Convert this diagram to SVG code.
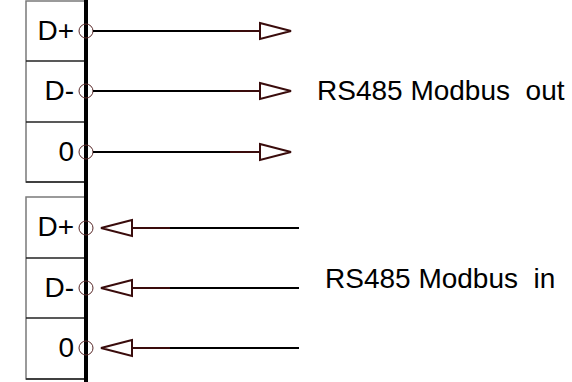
<svg xmlns="http://www.w3.org/2000/svg" width="572" height="382" viewBox="0 0 572 382">
<style>
.box{fill:#fff;stroke:#7a7a7a;stroke-width:1.5}
.div{stroke:#222;stroke-width:1.5}
.pin{fill:none;stroke:#5a2a2a;stroke-width:1}
.lbl{font-family:"Liberation Sans",Arial,sans-serif;font-size:28px;fill:#000}
.wire{stroke:#000;stroke-width:2;fill:none}
.bw{stroke:#3a0c0c;stroke-width:2;fill:none}
.arr{fill:#fff;stroke:#3a0c0c;stroke-width:2;stroke-linejoin:miter}
</style>
<rect width="572" height="382" fill="#fff"/>
<g id="out-terminal">
<rect class="box" x="26" y="1" width="60" height="181"/>
<line class="div" x1="26" y1="61" x2="86" y2="61"/>
<line class="div" x1="26" y1="122" x2="86" y2="122"/>
<line class="div" x1="26" y1="182" x2="86" y2="182"/>
<text class="lbl" x="74" y="40" text-anchor="end">D+</text>
<text class="lbl" x="74" y="100" text-anchor="end">D-</text>
<text class="lbl" x="74" y="161" text-anchor="end">0</text>
</g>
<g id="in-terminal">
<rect class="box" x="26" y="197" width="60" height="182"/>
<line class="div" x1="26" y1="258" x2="86" y2="258"/>
<line class="div" x1="26" y1="318" x2="86" y2="318"/>
<line class="div" x1="26" y1="379" x2="86" y2="379"/>
<text class="lbl" x="74" y="236" text-anchor="end">D+</text>
<text class="lbl" x="74" y="297" text-anchor="end">D-</text>
<text class="lbl" x="74" y="357" text-anchor="end">0</text>
</g>
<g id="bus">
<line x1="86" y1="0" x2="86" y2="382" stroke="#000" stroke-width="4"/>
</g>
<g id="pins">
<circle class="pin" cx="86" cy="31" r="7"/>
<circle class="pin" cx="86" cy="91" r="7"/>
<circle class="pin" cx="86" cy="152" r="7"/>
<circle class="pin" cx="86" cy="228" r="7"/>
<circle class="pin" cx="86" cy="288" r="7"/>
<circle class="pin" cx="86" cy="348" r="7"/>
</g>
<g id="connectors">
<line class="wire" x1="93" y1="31" x2="230" y2="31"/>
<line class="bw" x1="230" y1="31" x2="260" y2="31"/>
<polygon class="arr" points="260,23 291,31 260,39"/>
<line class="wire" x1="93" y1="91" x2="230" y2="91"/>
<line class="bw" x1="230" y1="91" x2="260" y2="91"/>
<polygon class="arr" points="260,83 291,91 260,99"/>
<line class="wire" x1="93" y1="152" x2="230" y2="152"/>
<line class="bw" x1="230" y1="152" x2="260" y2="152"/>
<polygon class="arr" points="260,144 291,152 260,160"/>
<line class="bw" x1="132" y1="228" x2="170" y2="228"/>
<line class="wire" x1="170" y1="228" x2="299" y2="228"/>
<polygon class="arr" points="132,220 101,228 132,236"/>
<line class="bw" x1="132" y1="288" x2="170" y2="288"/>
<line class="wire" x1="170" y1="288" x2="299" y2="288"/>
<polygon class="arr" points="132,280 101,288 132,296"/>
<line class="bw" x1="132" y1="348" x2="170" y2="348"/>
<line class="wire" x1="170" y1="348" x2="299" y2="348"/>
<polygon class="arr" points="132,340 101,348 132,356"/>
</g>
<g id="labels">
<text class="lbl" x="317" y="100" xml:space="preserve">RS485 Modbus  out</text>
<text class="lbl" x="325" y="288" xml:space="preserve">RS485 Modbus  in</text>
</g>
</svg>
